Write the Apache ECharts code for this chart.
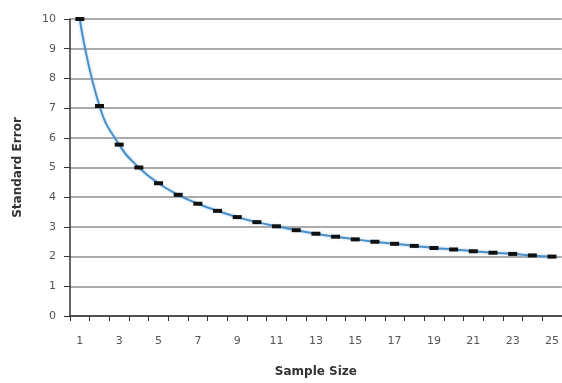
<!DOCTYPE html>
<html><head><meta charset="utf-8">
<script src="https://cdn.jsdelivr.net/npm/echarts@6/dist/echarts.min.js"></script>
<style>html,body{margin:0;padding:0;background:#fff}#c{width:562px;height:383px}</style>
</head><body><div id="c"></div>
<script>
const categories = ['1','2','3','4','5','6','7','8','9','10','11','12','13','14','15','16','17','18','19','20','21','22','23','24','25'];
const standardError = [10, 7.07, 5.77, 5.0, 4.47, 4.08, 3.78, 3.54, 3.33, 3.16, 3.02, 2.89, 2.77, 2.67, 2.58, 2.5, 2.43, 2.36, 2.29, 2.24, 2.18, 2.13, 2.09, 2.04, 2.0];
const xTitle = 'Sample Size';
const yTitle = 'Standard Error';

const chart = echarts.init(document.getElementById('c'), null, {renderer: 'canvas'});
chart.setOption({
  animation: false,
  grid: {left: 70, top: 19, right: 0, bottom: 60, containLabel: false},
  xAxis: {
    type: 'category', data: categories, boundaryGap: true,
    name: xTitle, nameLocation: 'middle', nameGap: 50,
    nameTextStyle: {fontFamily: 'DejaVu Sans', fontWeight: 'bold', fontSize: 12, color: '#333'},
    axisLine: {lineStyle: {color: '#333', width: 1.5}},
    axisTick: {show: true, interval: 0, length: 5, lineStyle: {color: '#333'}},
    axisLabel: {interval: 1, margin: 20, fontFamily: 'DejaVu Sans', fontSize: 11, color: '#555'},
    splitLine: {show: false}
  },
  yAxis: {
    type: 'value', min: 0, max: 10, interval: 1,
    name: yTitle, nameLocation: 'middle', nameGap: 46, nameRotate: 90,
    nameTextStyle: {fontFamily: 'DejaVu Sans', fontWeight: 'bold', fontSize: 12, color: '#333'},
    axisLine: {show: true, lineStyle: {color: '#333', width: 1.5}},
    axisTick: {show: true, length: 6, lineStyle: {color: '#333'}},
    axisLabel: {margin: 14, fontFamily: 'DejaVu Sans', fontSize: 11, color: '#555'},
    splitLine: {show: true, lineStyle: {color: '#8f8f8f', width: 1.5}}
  },
  series: [{
    type: 'line', data: standardError, smooth: 0.5,
    lineStyle: {color: '#4b8fc8', width: 2, shadowColor: 'rgba(120,180,230,0.6)', shadowBlur: 3},
    symbol: 'rect', symbolSize: [9, 4], showAllSymbol: true,
    itemStyle: {color: '#111'}
  }]
});
</script></body></html>
